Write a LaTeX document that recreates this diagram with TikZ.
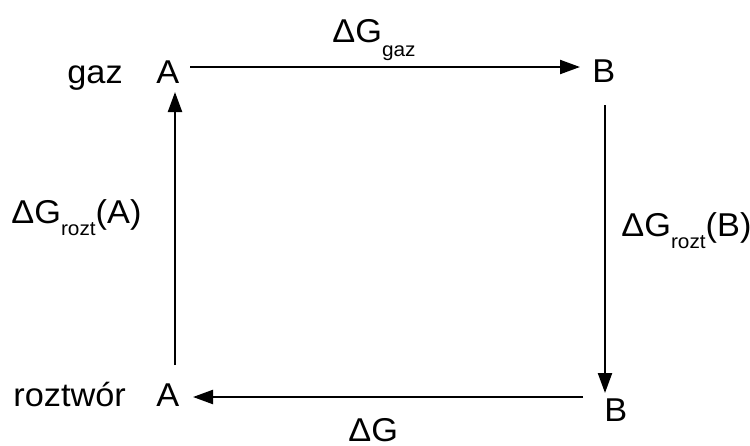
\documentclass[tikz,border=0pt]{standalone}
\usepackage{fontspec}
\setmainfont[FakeStretch=1.04]{Liberation Sans}
\usetikzlibrary{arrows.meta}
\newcommand{\subtxt}[2]{\raisebox{#1}{\fontsize{10}{11}\selectfont #2}}
\begin{document}
\begin{tikzpicture}[x=0.5pt,y=-0.5pt,
  lbl/.style={inner sep=0pt, anchor=base west, font=\fontsize{16.5}{18}\selectfont},
  conn/.style={line width=1.1pt, -{Triangle[length=10pt,width=7pt]}}]
\useasboundingbox (0,0) rectangle (750,445);
% state labels
\node[lbl] (gaz) at (67,83) {gaz};
\node[lbl] (A1) at (156,83) {A};
\node[lbl] (B1) at (592,82) {B};
\node[lbl] (roz) at (13,406) {roztwór};
\node[lbl] (A2) at (156,406) {A};
\node[lbl] (B2) at (604,421) {B};
% energy labels
\node[lbl] (Ggaz) at (332,42) {ΔG\subtxt{-7pt}{gaz}};
\node[lbl] (GA) at (11,223) {ΔG\subtxt{-6pt}{rozt}(A)};
\node[lbl] (GB) at (621,236) {ΔG\subtxt{-6pt}{rozt}(B)};
\node[lbl] (G) at (348,441) {ΔG};
% arrow end points
\coordinate (t1) at (190,67);
\coordinate (t2) at (580,67);
\coordinate (l1) at (175,365);
\coordinate (l2) at (175,92);
\coordinate (r1) at (605,105);
\coordinate (r2) at (605,393);
\coordinate (b1) at (583,397);
\coordinate (b2) at (193,397);
\draw[conn] (t1) -- (t2);
\draw[conn] (l1) -- (l2);
\draw[conn] (r1) -- (r2);
\draw[conn] (b1) -- (b2);
\end{tikzpicture}
\end{document}
